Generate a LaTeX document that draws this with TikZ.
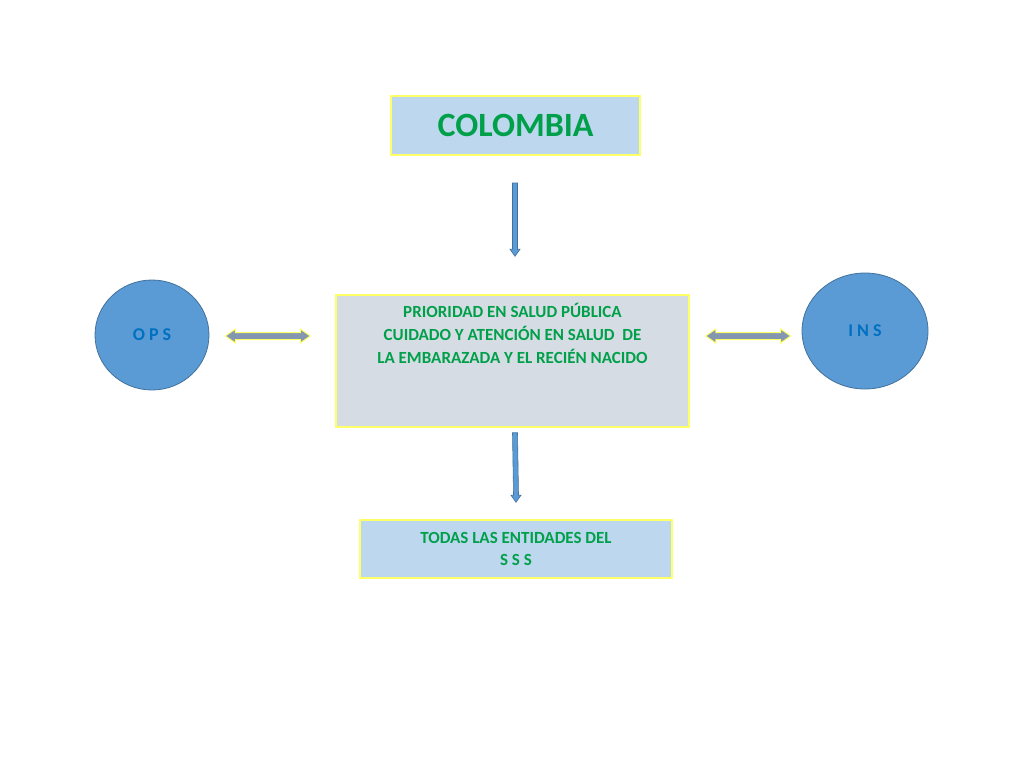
\documentclass[tikz,border=0pt]{standalone}
\usepackage{fontspec}
\setmainfont{Carlito}
\usetikzlibrary{calc}
\definecolor{grn}{HTML}{00A04A}
\definecolor{lb}{HTML}{BDD7EE}
\definecolor{gb}{HTML}{D6DCE4}
\definecolor{yb}{HTML}{FFFF66}
\definecolor{cb}{HTML}{5B9BD5}
\definecolor{cbd}{HTML}{41719C}
\definecolor{tb}{HTML}{0070C0}
\definecolor{ag}{HTML}{8497B0}
\tikzset{
 box/.style={draw=yb,line width=1.5pt,text=grn,font=\bfseries,align=center,inner sep=0pt},
 circ/.style={ellipse,draw=cbd,fill=cb,line width=0.8pt,text=tb,font=\bfseries\fontsize{18}{20}\selectfont,inner sep=0pt},
 varrow/.style={fill=cb,draw=cbd,line width=0.6pt},
 harrow/.style={fill=ag,draw=yb,line width=1pt}
}
\usetikzlibrary{shapes.geometric}
\newcommand{\varr}[2]{\path[varrow] ($(#1)+(-2.5,0)$) -- ($(#1)+(2.5,0)$) -- ($(#2)+(2.5,-7)$) -- ($(#2)+(5,-7)$) -- (#2) -- ($(#2)+(-5,-7)$) -- ($(#2)+(-2.5,-7)$) -- cycle;}
\newcommand{\harr}[2]{\path[harrow] (#1) -- ($(#1)+(10,-7)$) -- ($(#1)+(10,-3.5)$) -- ($(#2)+(-10,-3.5)$) -- ($(#2)+(-10,-7)$) -- (#2) -- ($(#2)+(-10,7)$) -- ($(#2)+(-10,3.5)$) -- ($(#1)+(10,3.5)$) -- ($(#1)+(10,7)$) -- cycle;}
\begin{document}
\begin{tikzpicture}[x=1pt,y=-1pt]
\useasboundingbox (0,0) rectangle (1024,768);
\node[box,fill=lb,minimum width=249,minimum height=59,font=\bfseries\fontsize{34}{38}\selectfont] (col) at (515.5,125.5) {COLOMBIA};
\node[box,fill=gb,minimum width=353,minimum height=132] (mid) at (512.5,361) {};
\node[text=grn,font=\bfseries\fontsize{17}{23}\selectfont,align=center,anchor=north] (midt) at (512.5,300) {PRIORIDAD EN SALUD PÚBLICA\\CUIDADO Y ATENCIÓN EN SALUD~ DE\\LA EMBARAZADA Y EL RECIÉN NACIDO};
\node[box,fill=lb,minimum width=312,minimum height=58,font=\bfseries\fontsize{17}{22}\selectfont] (sss) at (516,549) {TODAS LAS ENTIDADES DEL\\S S S};
\node[circ,minimum width=114,minimum height=110] (ops) at (152,335) {O P S};
\node[circ,minimum width=126,minimum height=116] (ins) at (865,331) {I N S};
\coordinate (a1) at ($(col.south)+(0,28)$);
\coordinate (a2) at ($(mid.north)+(2.5,-38)$);
\coordinate (b1) at ($(mid.south)+(2.5,5)$);
\coordinate (b2) at ($(sss.north)+(0,-17)$);
\coordinate (a1) at (515,183);
\varr{a1}{a2}
\varr{b1}{b2}
\coordinate (h1) at ($(ops.east)+(16,1)$);
\coordinate (h2) at ($(mid.west)+(-25,-25)$);
\coordinate (h3) at ($(mid.east)+(16,-25)$);
\coordinate (h4) at ($(ins.west)+(-11,5)$);
\harr{h1}{h2}
\harr{h3}{h4}
\end{tikzpicture}
\end{document}
